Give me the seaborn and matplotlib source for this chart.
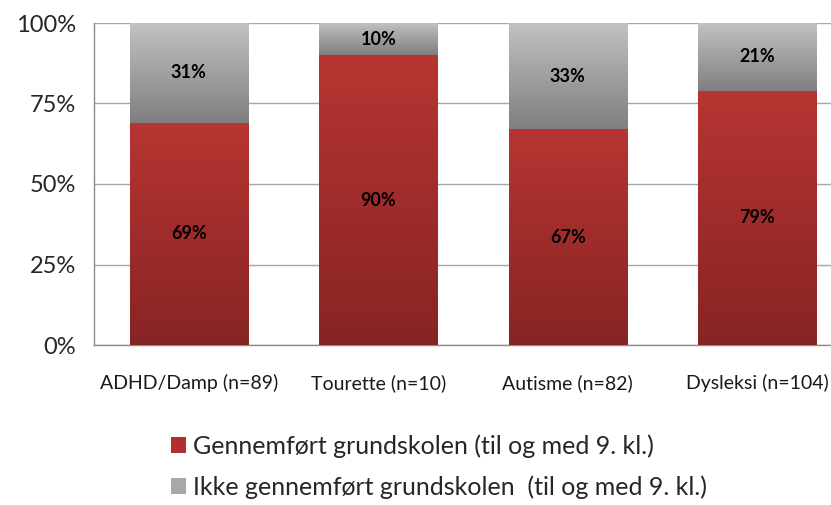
import numpy as np
import pandas as pd
import seaborn as sns
import matplotlib.pyplot as plt
from matplotlib.colors import LinearSegmentedColormap
from matplotlib.patches import Patch

categories = ["ADHD/Damp (n=89)", "Tourette (n=10)", "Autisme (n=82)", "Dysleksi (n=104)"]
completed = [69, 90, 67, 79]
not_completed = [31, 10, 33, 21]
legend_labels = ["Gennemført grundskolen (til og med 9. kl.)",
                 "Ikke gennemført grundskolen  (til og med 9. kl.)"]

df = pd.DataFrame({"cat": categories, "done": completed, "notdone": not_completed})
df["total"] = df["done"] + df["notdone"]

sns.set_style("white")
plt.rcParams["font.family"] = ["Lato", "DejaVu Sans"]

fig = plt.figure(figsize=(8.31, 5.05), dpi=100)
W, H = 831, 505
ax = fig.add_axes([94 / W, (H - 345) / H, (852 - 94) / W, 322 / H])

red_cmap = LinearSegmentedColormap.from_list("r", ["#872424", "#b73532"])
gray_cmap = LinearSegmentedColormap.from_list("g", ["#7f7f7f", "#c2c2c2"])

sns.barplot(data=df, x="cat", y="total", color="#a0a0a0", width=0.625,
            saturation=1, ax=ax, zorder=2)
n_gray = len(ax.patches)
sns.barplot(data=df, x="cat", y="done", color="#a02c2c", width=0.625,
            saturation=1, ax=ax, zorder=3)

grad = np.linspace(0, 1, 256).reshape(-1, 1)
for i, p in enumerate(ax.patches):
    x0, y0 = p.get_x(), p.get_y()
    w, h = p.get_width(), p.get_height()
    if i < n_gray:
        # gray part is only visible above the red part
        y0 = df["done"].iloc[i]
        cmap = gray_cmap
        top = y0 + df["notdone"].iloc[i]
        zo = 2.5
    else:
        cmap = red_cmap
        top = y0 + h
        zo = 3.5
    im = ax.imshow(grad, cmap=cmap, origin="lower", aspect="auto",
                   extent=(x0, x0 + w, y0, top), zorder=zo)
    im.set_clip_path(p)
    p.set_edgecolor("none")

for i in range(len(categories)):
    ax.text(i, completed[i] / 2, f"{completed[i]}%", ha="center", va="center",
            fontsize=13, fontweight="bold", color="black", zorder=5)
    ax.text(i, completed[i] + not_completed[i] / 2, f"{not_completed[i]}%",
            ha="center", va="center", fontsize=13, fontweight="bold",
            color="black", zorder=5)

ax.set_xlim(-0.5, len(categories) - 0.5)
ax.set_ylim(0, 100)
ax.set_yticks([0, 25, 50, 75, 100])
ax.set_yticklabels([f"{v}%" for v in [0, 25, 50, 75, 100]], fontsize=17)
ax.grid(axis="y", color="#a6a6a6", linewidth=1, zorder=0)
ax.set_axisbelow(True)
ax.set_xlabel("")
ax.set_ylabel("")
ax.set_xticks(range(len(categories)))
ax.set_xticklabels(categories, fontsize=14, color="#1a1a1a")
ax.set_xticks(np.arange(-0.5, len(categories) - 0.5, 1), minor=True)
ax.tick_params(axis="x", which="major", length=0, pad=21)
ax.tick_params(axis="x", which="minor", length=6, color="#8c8c8c", direction="out")
ax.tick_params(axis="y", length=7, color="#8c8c8c", direction="out", pad=6)
for s in ["top", "right"]:
    ax.spines[s].set_visible(False)
for s in ["left", "bottom"]:
    ax.spines[s].set_color("#8c8c8c")
    ax.spines[s].set_linewidth(1)

handles = [Patch(facecolor="#b0302d", edgecolor="none"),
           Patch(facecolor="#a8a8a8", edgecolor="none")]
fig.legend(handles, legend_labels, loc="upper left",
           bbox_to_anchor=(148 / W, 1 - 412 / H), frameon=False,
           fontsize=18, handlelength=0.6, handleheight=0.6,
           handletextpad=0.3, labelspacing=0.7)

fig.savefig("out.png", dpi=100)
